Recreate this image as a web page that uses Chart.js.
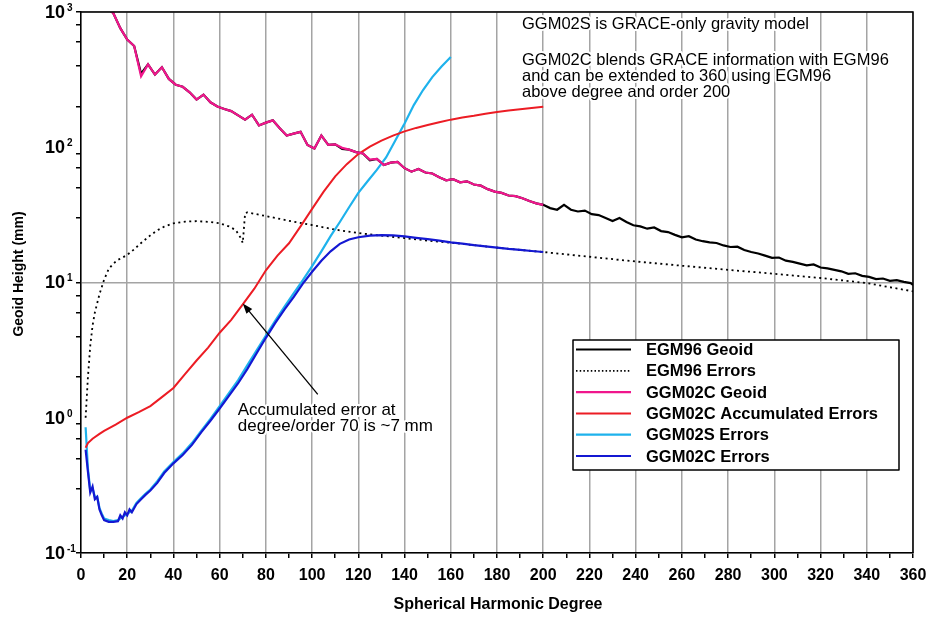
<!DOCTYPE html>
<html>
<head>
<meta charset="utf-8">
<script src="https://cdn.jsdelivr.net/npm/chart.js@4.4.1/dist/chart.umd.min.js"></script>
<style>
  html, body { margin: 0; padding: 0; background: #fff; }
</style>
</head>
<body>
<canvas id="canvas" width="932" height="618"></canvas>
<script>
// degrees for the geoid curves (EGM96 runs to 360, GGM02C stops at 200)
const geoidDeg = [11,14,17,20,23,26,29,32,35,38,41,44,47,50,53,56,59,62,65,68,71,74,77,80,83,86,89,92,95,98,
  101,104,107,110,113,116,119,122,125,128,131,134,137,140,143,146,149,152,155,158,161,164,167,170,173,176,179,182,185,188,
  191,194,197,200,203,206,209,212,215,218,221,224,227,230,233,236,239,242,245,248,251,254,257,260,263,266,269,272,275,278,
  281,284,287,290,293,296,299,302,305,308,311,314,317,320,323,326,329,332,335,338,341,344,347,350,353,356,359,360];
const egm96Geoid = [1080,980,760,625,560,350,410,345,390,320,290,280,255,225,245,215,200,192,185,172,160,174,145,152,158,138,122,126,130,104,
  98,122,104,105,97,96,92,90,80,82,74,77,78,70,66,69,65,64,60,57,58,55,56,53,52,49,47,46,44,43.5,
  42,40,38.5,37.5,35.5,34.5,37.5,34.5,33.5,34,32,31.5,30,28.5,30,28,26.5,26,25,25.5,24,23.6,22.5,21.6,22,20.8,20.2,19.8,19.6,18.8,
  18.3,18.4,17.4,16.8,16.4,15.8,15.2,15.3,14.5,14.2,13.8,13.4,13.6,12.9,12.7,12.4,12.1,11.6,11.7,11.2,11.0,10.6,10.7,10.3,10.4,10.1,9.9,9.6];
const ggm02cGeoid = [1080,980,760,625,560,335,410,345,390,320,290,280,255,225,245,215,200,192,185,172,160,174,145,152,158,138,122,126,130,104,
  98,122,104,105,99,96,92,90,81,82,74,77,78,70,66,69,65,64,60,57,58,55,56,53,52,49,47,46,44,43.5,
  42,40,38.5,37.5];

const egm96ErrDeg = [2,3,4,5,6,8,10,12,14,16,18,20,23,26,30,33,36,40,45,50,55,60,64,67,69,70,71,72,80,90,
  100,110,120,130,140,150,160,170,180,190,200,220,240,260,280,300,320,340,360];
const egm96Err = [1.0,2.0,3.4,4.8,6.0,8.2,10.5,12.6,13.8,14.7,15.3,16.0,17.6,19.6,22.3,24.3,25.9,27.4,28.2,28.4,28.1,27.4,26.0,24.4,21.5,19.6,32.5,33.0,31.0,28.6,
  26.6,24.6,23.2,22.2,21.3,20.4,19.7,18.9,18.1,17.4,16.8,15.5,14.3,13.3,12.4,11.6,10.8,9.9,8.6];

const accumDeg = [2,3,5,8,10,15,20,25,30,35,40,45,50,55,60,65,70,75,80,85,90,95,100,105,110,115,120,125,130,135,
  140,145,150,155,160,165,170,175,180,185,190,195,200];
const ggm02cAccum = [0.6,0.65,0.7,0.76,0.8,0.89,1.0,1.1,1.22,1.42,1.66,2.1,2.65,3.3,4.25,5.3,6.9,9.0,12.3,15.8,19.5,26,35,47,61,75,89,101,112,122,
  131,139,146,153,160,166,171,177,182,187,191,195,199];

const ggm02sDeg = [2,3,4,5,6,7,8,9,10,12,14,16,18,20,22,24,26,28,30,33,36,40,44,48,52,56,60,64,68,72,
  76,80,84,88,92,96,100,104,108,112,116,120,124,128,132,136,140,144,148,152,156,160];
const ggm02sErr = [0.85,0.42,0.29,0.3,0.26,0.26,0.215,0.195,0.18,0.175,0.172,0.175,0.185,0.195,0.205,0.235,0.255,0.275,0.295,0.34,0.4,0.47,0.545,0.65,0.8,0.98,1.22,1.52,1.9,2.45,
  3.15,4.05,5.2,6.6,8.3,10.4,13.2,17,22,28,36,46,56,68,84,112,150,205,265,330,395,465];

const ggm02cDeg = [2,3,4,5,6,7,8,9,10,12,14,16,17,18,19,20,21,22,24,26,28,30,33,36,40,44,48,52,56,60,
  64,68,72,76,80,84,88,92,96,100,104,108,112,116,120,125,130,135,140,145,150,155,160,165,170,175,180,185,190,195,200];
const ggm02cErr = [0.58,0.4,0.28,0.31,0.25,0.26,0.21,0.19,0.175,0.17,0.17,0.172,0.19,0.18,0.2,0.19,0.21,0.2,0.23,0.25,0.27,0.29,0.33,0.39,0.46,0.53,0.63,0.78,0.95,1.17,
  1.45,1.8,2.3,3.0,3.9,5.0,6.3,7.8,9.8,12,14.5,17,19.3,20.8,21.6,22.2,22.4,22.3,21.9,21.4,20.9,20.4,19.8,19.4,18.9,18.5,18.1,17.7,17.4,17.1,16.8];

const yDecades = [0.1, 1, 10, 100, 1000];
const yExponents = ['-1', '0', '1', '2', '3'];

const FONT = '"Liberation Sans", Arial, Helvetica, sans-serif';
const gridGray = '#a4a4a4';

function pts(xs, ys) {
  return xs.map((x, i) => ({ x: x, y: ys[i] }));
}

function haloText(c, text, x, y) {
  c.lineJoin = 'round';
  c.strokeStyle = '#fff';
  c.lineWidth = 4;
  c.strokeText(text, x, y);
  c.fillStyle = '#000';
  c.fillText(text, x, y);
}

const decorations = {
  id: 'decorations',
  afterDraw(chart) {
    const c = chart.ctx, a = chart.chartArea;
    const xs = chart.scales.x, ys = chart.scales.y;
    c.save();

    // top and right frame
    c.strokeStyle = '#000';
    c.lineWidth = 1.5;
    c.beginPath();
    c.moveTo(a.left, a.top);
    c.lineTo(a.right, a.top);
    c.lineTo(a.right, a.bottom);
    c.stroke();

    // y tick labels 10^n
    c.fillStyle = '#000';
    yDecades.forEach((v, i) => {
      const y = ys.getPixelForValue(v);
      c.font = 'bold 18px ' + FONT;
      c.textAlign = 'right';
      c.textBaseline = 'middle';
      c.fillText('10', 65, y + 1);
      c.font = 'bold 10px ' + FONT;
      c.textAlign = 'left';
      c.fillText(yExponents[i], 67, y - 4);
    });

    // axis titles
    c.font = 'bold 16px ' + FONT;
    c.textAlign = 'center';
    c.textBaseline = 'middle';
    c.fillText('Spherical Harmonic Degree', 498, 605);
    c.save();
    c.translate(19, 274);
    c.rotate(-Math.PI / 2);
    c.font = 'bold 14px ' + FONT;
    c.fillText('Geoid Height (mm)', 0, 0);
    c.restore();

    // notes top right
    c.font = '16.5px ' + FONT;
    c.textAlign = 'left';
    c.textBaseline = 'alphabetic';
    haloText(c, 'GGM02S is GRACE-only gravity model', 522, 28.5);
    haloText(c, 'GGM02C blends GRACE information with EGM96', 522, 65);
    haloText(c, 'and can be extended to 360 using EGM96', 522, 81);
    haloText(c, 'above degree and order 200', 522, 97);

    // arrow to accumulated error at degree 70
    const tx = xs.getPixelForValue(70), ty = ys.getPixelForValue(7);
    const sx = tx + 75, sy = ty + 91;
    c.strokeStyle = '#000';
    c.lineWidth = 1.3;
    c.beginPath();
    c.moveTo(sx, sy);
    c.lineTo(tx + 4, ty + 5);
    c.stroke();
    const ang = Math.atan2(ty - sy, tx - sx);
    c.beginPath();
    c.moveTo(tx, ty);
    c.lineTo(tx - 11 * Math.cos(ang - 0.35), ty - 11 * Math.sin(ang - 0.35));
    c.lineTo(tx - 11 * Math.cos(ang + 0.35), ty - 11 * Math.sin(ang + 0.35));
    c.closePath();
    c.fillStyle = '#000';
    c.fill();
    c.font = '17px ' + FONT;
    haloText(c, 'Accumulated error at', tx - 5, ty + 112);
    haloText(c, 'degree/order 70 is ~7 mm', tx - 5, ty + 128);

    // legend box
    const lx = 573, ly = 340, lw = 326, lh = 130;
    c.fillStyle = '#fff';
    c.fillRect(lx, ly, lw, lh);
    c.strokeStyle = '#000';
    c.lineWidth = 1.5;
    c.strokeRect(lx, ly, lw, lh);
    c.font = 'bold 16.5px ' + FONT;
    c.textBaseline = 'middle';
    chart.data.datasets.forEach((ds, i) => {
      const y = ly + 9.5 + i * 21.3;
      c.strokeStyle = ds.borderColor;
      c.lineWidth = ds.borderWidth;
      c.setLineDash(ds.borderDash ? [1.5, 2.2] : []);
      c.beginPath();
      c.moveTo(lx + 3, y);
      c.lineTo(lx + 58, y);
      c.stroke();
      c.setLineDash([]);
      c.fillStyle = '#000';
      c.fillText(ds.label, lx + 73, y + 1);
    });

    c.restore();
  }
};

const ctx = document.getElementById('canvas').getContext('2d');
const chart = new Chart(ctx, {
  type: 'line',
  data: {
    datasets: [
      {
        label: 'EGM96 Geoid',
        data: pts(geoidDeg, egm96Geoid),
        borderColor: '#000000',
        borderWidth: 2.2,
        order: 5,
      },
      {
        label: 'EGM96 Errors',
        data: pts(egm96ErrDeg, egm96Err),
        borderColor: '#000000',
        borderWidth: 1.8,
        borderDash: [2, 3.5],
        order: 4,
      },
      {
        label: 'GGM02C Geoid',
        data: pts(geoidDeg.slice(0, ggm02cGeoid.length), ggm02cGeoid),
        borderColor: 'rgb(240, 22, 140)',
        borderWidth: 2.2,
        order: 1,
      },
      {
        label: 'GGM02C Accumulated Errors',
        data: pts(accumDeg, ggm02cAccum),
        borderColor: 'rgb(236, 28, 36)',
        borderWidth: 2,
        order: 2,
      },
      {
        label: 'GGM02S Errors',
        data: pts(ggm02sDeg, ggm02sErr),
        borderColor: 'rgb(30, 178, 236)',
        borderWidth: 2.2,
        order: 3,
      },
      {
        label: 'GGM02C Errors',
        data: pts(ggm02cDeg, ggm02cErr),
        borderColor: 'rgb(20, 24, 210)',
        borderWidth: 2.2,
        order: 0,
      }]
  },
  options: {
    responsive: false,
    animation: false,
    devicePixelRatio: 1,
    layout: { padding: { left: 0, top: 12, right: 19, bottom: 0 } },
    elements: {
      point: { radius: 0 },
      line: { tension: 0, fill: false }
    },
    plugins: {
      legend: { display: false },
      tooltip: { enabled: false }
    },
    scales: {
      x: {
        type: 'linear',
        min: 0,
        max: 360,
        afterFit: (s) => { s.height = 65; s.paddingLeft = 0; s.paddingRight = 0; },
        ticks: {
          stepSize: 10,
          autoSkip: false,
          maxRotation: 0,
          color: '#000',
          padding: 8,
          font: { family: FONT, size: 16, weight: 'bold' },
          callback: (v) => (v % 20 === 0 ? v : '')
        },
        grid: {
          color: (c) => (c.tick && c.tick.value % 20 === 0 ? gridGray : 'rgba(0,0,0,0)'),
          lineWidth: 1.5,
          tickColor: '#000',
          tickLength: 5
        },
        border: { color: '#000', width: 1.5 }
      },
      y: {
        type: 'logarithmic',
        min: 0.1,
        max: 1000,
        afterFit: (s) => { s.width = 81; s.paddingTop = 0; s.paddingBottom = 0; },
        afterBuildTicks: (s) => {
          const t = [];
          yDecades.forEach((d, i) => {
            if (i === yDecades.length - 1) { t.push({ value: d }); return; }
            for (let k = 1; k < 10; k++) t.push({ value: d * k });
          });
          s.ticks = t;
        },
        ticks: { callback: () => '', padding: 0 },
        grid: {
          color: (c) => {
            const v = c.tick ? c.tick.value : 0;
            const l = Math.log10(v);
            return Math.abs(l - Math.round(l)) < 1e-6 ? gridGray : 'rgba(0,0,0,0)';
          },
          lineWidth: 1.5,
          tickColor: '#000',
          tickLength: 5
        },
        border: { color: '#000', width: 1.5 }
      }
    }
  },
  plugins: [decorations]
});
</script>
</body>
</html>
